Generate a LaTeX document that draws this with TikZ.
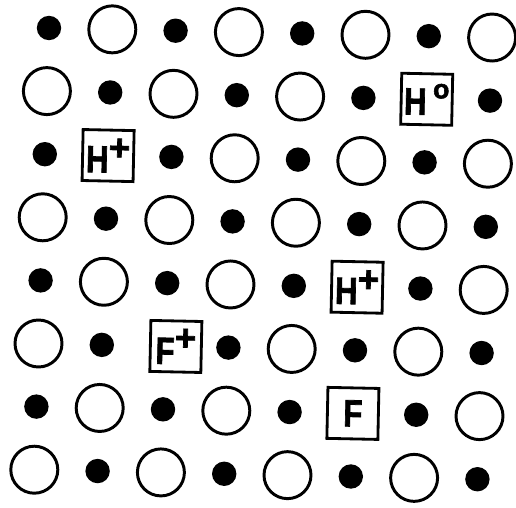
\documentclass[tikz,border=0pt]{standalone}
\usepackage{fontspec}
\setsansfont{Liberation Sans}
\newfontfamily\defectfont{Liberation Sans}[BoldFeatures={FakeBold=2}]
\tikzset{
  anion/.style={draw, circle, line width=2.1pt, minimum size=1.175cm, inner sep=0pt},
  cation/.style={fill, circle, minimum size=0.61cm, inner sep=0pt},
  defect/.style={draw, line width=2pt, minimum size=1.275cm, inner sep=0pt, rotate=-1.2,
    font=\defectfont\bfseries\fontsize{27}{27}\selectfont}
}
\newcommand\elem[1]{\scalebox{0.82}[1]{#1}}
\newcommand\chg[2]{\raisebox{#1}{\fontsize{26}{26}\selectfont #2}}

\begin{document}
\begin{tikzpicture}[x={(1.5825cm,-0.034cm)}, y={(-0.0525cm,-1.5775cm)}]
  \useasboundingbox (-1.225cm,0.7cm) rectangle (11.675cm,-12cm);

  % small filled ions
  \foreach \r in {0,...,7}
    \foreach \c in {0,2,4,6} {
      \pgfmathtruncatemacro\cc{\c+mod(\r,2)}
      \node[cation] (dot-\r-\cc) at (\cc,\r) {};
    }

  % large open ions, boxed sites left out
  \foreach \r/\cols in {0/{1,3,5,7}, 1/{0,2,4}, 2/{3,5,7}, 3/{0,2,4,6},
                        4/{1,3,7}, 5/{0,4,6}, 6/{1,3,7}, 7/{0,2,4,6}}
    \foreach \c in \cols
      \node[anion] (ring-\r-\c) at (\c,\r) {};

  % defects
  \node[defect] (hzero)  at (6,1)    {\elem{H}\,\chg{12pt}{\fontsize{19}{19}\selectfont o}};
  \node[defect] (hplusa) at (1,2)    {\elem{H}\chg{9pt}{+}};
  \node[defect] (hplusb) at (5,4)    {\elem{H}\chg{9pt}{+}};
  \node[defect] (fplus)  at (2.17,5) {\elem{F}\chg{10pt}{+}};
  \node[defect] (fzero)  at (5,6)    {\elem{F}};
\end{tikzpicture}
\end{document}
